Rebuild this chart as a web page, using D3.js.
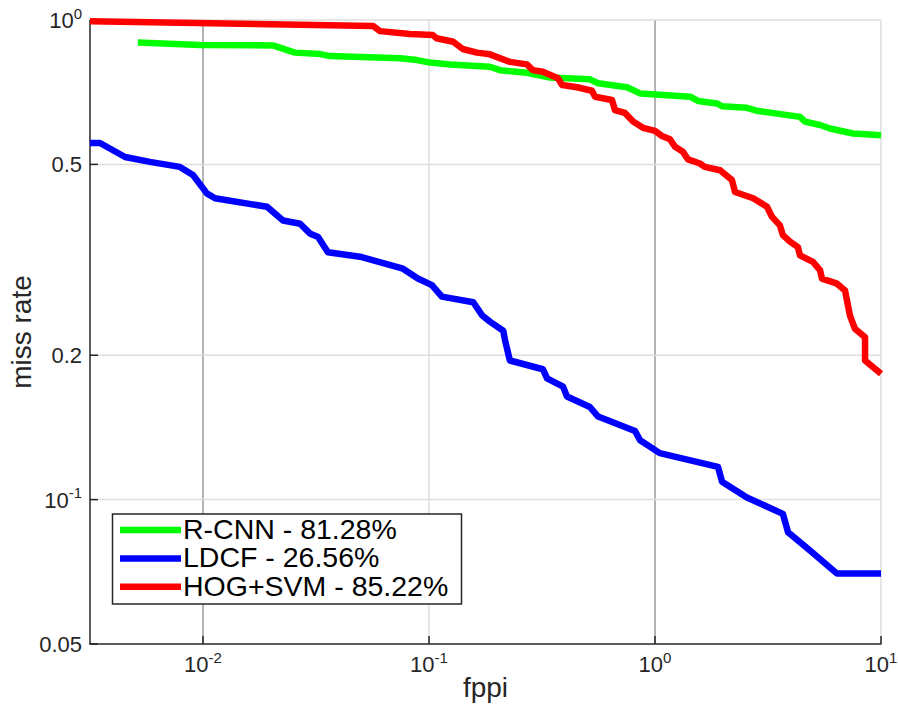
<!DOCTYPE html>
<html>
<head>
<meta charset="utf-8">
<script src="https://cdn.jsdelivr.net/npm/d3@7"></script>
<style>
  body { margin: 0; background: #fff; }
  text { font-family: "Liberation Sans", Arial, sans-serif; }
</style>
</head>
<body>
<script>

// fppi / miss-rate pairs
const rcnnFppi = [0.00515, 0.0097, 0.0204, 0.0255, 0.033, 0.0365, 0.0745, 0.0885, 0.101, 0.124, 0.186, 0.206, 0.271, 0.343, 0.515, 0.56, 0.752, 0.859, 1.43, 1.55, 1.88, 1.98, 2.55, 2.86, 4.38, 4.61, 5.37, 5.95, 7.52, 10]
const rcnnMiss = [0.898, 0.887, 0.885, 0.855, 0.849, 0.841, 0.832, 0.825, 0.815, 0.808, 0.799, 0.786, 0.776, 0.759, 0.752, 0.738, 0.724, 0.703, 0.692, 0.678, 0.67, 0.661, 0.656, 0.646, 0.628, 0.614, 0.604, 0.594, 0.58, 0.575]

const ldcfFppi = [0.00316, 0.0035, 0.00452, 0.00582, 0.0079, 0.00903, 0.0104, 0.0113, 0.0192, 0.0226, 0.0269, 0.0297, 0.0323, 0.0357, 0.0495, 0.0767, 0.0893, 0.103, 0.114, 0.157, 0.172, 0.186, 0.213, 0.217, 0.228, 0.319, 0.333, 0.392, 0.408, 0.515, 0.56, 0.816, 0.859, 1.05, 1.9, 1.98, 2.55, 3.68, 3.88, 4.85, 6.39, 10]
const ldcfMiss = [0.554, 0.554, 0.518, 0.506, 0.494, 0.475, 0.435, 0.425, 0.408, 0.382, 0.376, 0.359, 0.353, 0.328, 0.321, 0.303, 0.289, 0.28, 0.265, 0.258, 0.242, 0.235, 0.225, 0.215, 0.195, 0.187, 0.179, 0.172, 0.164, 0.156, 0.149, 0.139, 0.133, 0.125, 0.117, 0.109, 0.101, 0.0934, 0.0855, 0.0783, 0.0701, 0.0701]

const hogFppi = [0.00316, 0.0269, 0.0565, 0.0607, 0.0824, 0.104, 0.108, 0.128, 0.141, 0.163, 0.186, 0.228, 0.271, 0.288, 0.319, 0.372, 0.388, 0.452, 0.526, 0.543, 0.645, 0.665, 0.736, 0.8, 0.885, 1.0, 1.074, 1.165, 1.226, 1.33, 1.4, 1.58, 1.66, 1.94, 2.19, 2.26, 2.72, 3.13, 3.29, 3.57, 3.68, 3.96, 4.29, 4.38, 5.0, 5.37, 5.48, 6.39, 6.93, 7.29, 7.67, 8.5, 8.5, 10]
const hogMiss = [0.994, 0.978, 0.972, 0.948, 0.935, 0.93, 0.916, 0.901, 0.87, 0.855, 0.848, 0.818, 0.808, 0.786, 0.78, 0.756, 0.732, 0.724, 0.712, 0.692, 0.681, 0.649, 0.64, 0.614, 0.596, 0.587, 0.573, 0.564, 0.544, 0.531, 0.512, 0.502, 0.494, 0.486, 0.464, 0.438, 0.425, 0.408, 0.389, 0.373, 0.356, 0.345, 0.336, 0.323, 0.313, 0.301, 0.289, 0.282, 0.273, 0.242, 0.227, 0.218, 0.195, 0.183]

const seriesNames = ['R-CNN - 81.28%', 'LDCF - 26.56%', 'HOG+SVM - 85.22%']
const seriesColors = ['#00ff00', '#0000ff', '#ff0000']

const xTicks = [0.01, 0.1, 1, 10]
const xTickExp = ['-2', '-1', '0', '1']
const yTicks = [0.05, 0.1, 0.2, 0.5, 1]
const yTickLabels = ['0.05', '10^-1', '0.2', '0.5', '10^0']

const W = 898, H = 708
const pLeft = 90, pRight = 881, pTop = 20, pBottom = 644

const x = d3.scaleLog().domain([Math.pow(10, -2.5), 10]).range([pLeft, pRight])
const y = d3.scaleLog().domain([0.05, 1]).range([pBottom, pTop])

const svg = d3.select('body').append('svg')
    .attr('width', W).attr('height', H)

// grid
const darkGrid = [0.01, 1]
svg.append('g').selectAll('line')
    .data(xTicks)
    .join('line')
    .attr('x1', d => x(d)).attr('x2', d => x(d))
    .attr('y1', pTop).attr('y2', pBottom)
    .attr('stroke', d => darkGrid.includes(d) ? '#b3b3b3' : '#dedede')
    .attr('stroke-width', d => darkGrid.includes(d) ? 2 : 1.5)

svg.append('g').selectAll('line')
    .data(yTicks.filter(d => d > 0.05))
    .join('line')
    .attr('x1', pLeft).attr('x2', pRight)
    .attr('y1', d => y(d)).attr('y2', d => y(d))
    .attr('stroke', '#dedede')
    .attr('stroke-width', 1.5)

// axes
const axisColor = '#262626'
svg.append('line')
    .attr('x1', pLeft).attr('x2', pLeft).attr('y1', pTop).attr('y2', pBottom + 0.5)
    .attr('stroke', axisColor).attr('stroke-width', 1.5)
svg.append('line')
    .attr('x1', pLeft - 0.5).attr('x2', pRight + 0.5).attr('y1', pBottom).attr('y2', pBottom)
    .attr('stroke', axisColor).attr('stroke-width', 1.5)

svg.append('g').selectAll('line')
    .data(yTicks)
    .join('line')
    .attr('x1', pLeft).attr('x2', pLeft + 8)
    .attr('y1', d => y(d)).attr('y2', d => y(d))
    .attr('stroke', axisColor).attr('stroke-width', 1.5)

svg.append('g').selectAll('line')
    .data(xTicks)
    .join('line')
    .attr('x1', d => x(d)).attr('x2', d => x(d))
    .attr('y1', pBottom).attr('y2', pBottom - 8)
    .attr('stroke', axisColor).attr('stroke-width', 1.5)

// y tick labels
yTicks.forEach((d, i) => {
    const lab = yTickLabels[i]
    const t = svg.append('text')
        .attr('x', pLeft - 8)
        .attr('y', y(d) + 8)
        .attr('text-anchor', 'end')
        .attr('fill', axisColor)
        .attr('font-size', 22)
    if (lab.includes('^')) {
        const parts = lab.split('^')
        t.append('tspan').text(parts[0])
        t.append('tspan').attr('font-size', 15).attr('dy', -9.5).text(parts[1])
    } else {
        t.text(lab)
    }
})

// x tick labels
xTicks.forEach((d, i) => {
    const t = svg.append('text')
        .attr('x', x(d))
        .attr('y', pBottom + 28)
        .attr('text-anchor', 'middle')
        .attr('fill', axisColor)
        .attr('font-size', 22)
    t.append('tspan').text('10')
    t.append('tspan').attr('font-size', 15).attr('dy', -9.5).text(xTickExp[i])
})

// axis labels
svg.append('text')
    .attr('x', (pLeft + pRight) / 2)
    .attr('y', 697)
    .attr('text-anchor', 'middle')
    .attr('fill', axisColor)
    .attr('font-size', 28)
    .text('fppi')

svg.append('text')
    .attr('transform', `translate(31, ${(pTop + pBottom) / 2}) rotate(-90)`)
    .attr('text-anchor', 'middle')
    .attr('fill', axisColor)
    .attr('font-size', 28)
    .text('miss rate')

// curves
const series = [
    { fppi: rcnnFppi, miss: rcnnMiss },
    { fppi: ldcfFppi, miss: ldcfMiss },
    { fppi: hogFppi, miss: hogMiss }
]

const line = d3.line()
    .x(d => x(d[0]))
    .y(d => y(d[1]))

svg.append('g').selectAll('path')
    .data(series)
    .join('path')
    .attr('d', s => line(d3.zip(s.fppi, s.miss)))
    .attr('fill', 'none')
    .attr('stroke', (s, i) => seriesColors[i])
    .attr('stroke-width', 6.5)
    .attr('stroke-linejoin', 'round')

// legend
const legend = svg.append('g')
legend.append('rect')
    .attr('x', 112.5).attr('y', 514)
    .attr('width', 349).attr('height', 90)
    .attr('fill', '#fff')
    .attr('stroke', axisColor)
    .attr('stroke-width', 1.5)

const entry = legend.selectAll('g')
    .data(seriesNames)
    .join('g')
    .attr('transform', (d, i) => `translate(0, ${530 + i * 28.4})`)

entry.append('line')
    .attr('x1', 120).attr('x2', 181)
    .attr('stroke', (d, i) => seriesColors[i])
    .attr('stroke-width', 6.5)

entry.append('text')
    .attr('x', 183)
    .attr('y', 9)
    .attr('font-size', 28.5)
    .attr('fill', '#000')
    .text(d => d)

</script>
</body>
</html>
